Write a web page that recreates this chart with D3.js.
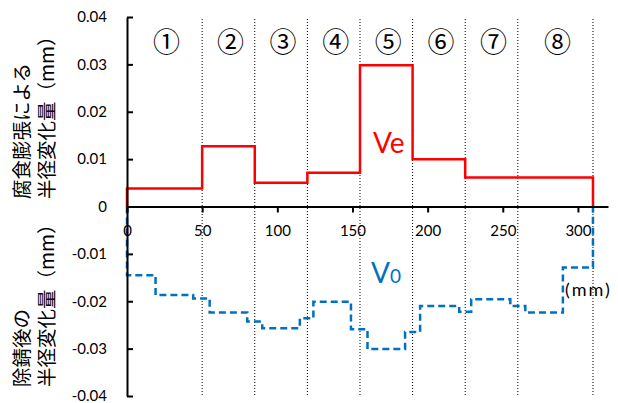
<!DOCTYPE html>
<html>
<head>
<meta charset="utf-8">
<script src="https://cdn.jsdelivr.net/npm/d3@7.9.0/dist/d3.min.js"></script>
<style>
  body { margin: 0; background: #fff; }
  svg { display: block; }
  .tick text { font-family: Lato, "Noto Sans", sans-serif; font-size: 15px; fill: #000; }
  .jp { font-family: "Noto Sans CJK JP", sans-serif; }
</style>
</head>
<body>
<svg width="618" height="403"></svg>
<script>
// section boundaries (mm) and the corrosion-expansion change per section
const sectionEdges = [0, 50, 85, 120, 155, 190, 225, 260, 310];
const sectionLabels = ["①", "②", "③", "④", "⑤", "⑥", "⑦", "⑧"];
const veValues = [0.0038, 0.0127, 0.0050, 0.0071, 0.0298, 0.0100, 0.0061, 0.0061];

// after rust removal: finer steps
const v0Edges = [0, 19, 44, 55, 80, 90, 115, 124, 149, 160, 185, 195, 221, 229, 255, 265, 290, 310];
const v0Values = [-0.0145, -0.0187, -0.0194, -0.0224, -0.0243, -0.0257, -0.0236, -0.0201,
                  -0.0259, -0.0301, -0.0265, -0.0210, -0.0222, -0.0196, -0.0210, -0.0224, -0.0129];

const xTicks = [0, 50, 100, 150, 200, 250, 300];
const yTicks = [0.04, 0.03, 0.02, 0.01, 0, -0.01, -0.02, -0.03, -0.04];

const svg = d3.select("svg");

const x = d3.scaleLinear().domain([0, 320]).range([127, 608]);
const y = d3.scaleLinear().domain([-0.04, 0.04]).range([396, 17]);

// dotted section dividers
svg.append("g")
  .selectAll("line")
  .data(sectionEdges.slice(1))
  .join("line")
  .attr("x1", d => x(d)).attr("x2", d => x(d))
  .attr("y1", 19).attr("y2", 396)
  .attr("stroke", "#000")
  .attr("stroke-width", 1)
  .attr("stroke-dasharray", "1,2");

// circled section numbers
svg.append("g")
  .selectAll("text")
  .data(sectionLabels)
  .join("text")
  .attr("class", "jp")
  .attr("x", (d, i) => x((sectionEdges[i] + sectionEdges[i + 1]) / 2) + 2)
  .attr("y", 52)
  .attr("text-anchor", "middle")
  .attr("font-size", 27)
  .text(d => d);

// build step points
function stepPoints(edges, vals) {
  const pts = [[edges[0], 0]];
  vals.forEach((v, i) => pts.push([edges[i], v]));
  const last = edges[edges.length - 1];
  pts.push([last, vals[vals.length - 1]]);
  pts.push([last, 0]);
  return pts;
}

const line = d3.line()
  .x(d => x(d[0]))
  .y(d => y(d[1]))
  .curve(d3.curveStepAfter);

svg.append("path")
  .attr("d", line(stepPoints(v0Edges, v0Values)))
  .attr("fill", "none")
  .attr("stroke", "#0070c0")
  .attr("stroke-width", 2.5)
  .attr("stroke-dasharray", "7,4");

svg.append("path")
  .attr("d", line(stepPoints(sectionEdges, veValues)))
  .attr("fill", "none")
  .attr("stroke", "#ff0000")
  .attr("stroke-width", 2.5);

// axes
const yAxis = svg.append("g")
  .attr("transform", `translate(${x(0)},0)`)
  .call(d3.axisLeft(y)
    .tickValues(yTicks)
    .tickSizeInner(-6)
    .tickSizeOuter(0)
    .tickPadding(20)
    .tickFormat(d => d === 0 ? "0" : d.toFixed(2)));

const xAxis = svg.append("g")
  .attr("transform", `translate(0,${y(0)})`)
  .call(d3.axisBottom(x)
    .tickValues(xTicks)
    .tickSizeInner(6)
    .tickSizeOuter(0)
    .tickPadding(13)
    .tickFormat(d3.format("d")));

[yAxis, xAxis].forEach(g => {
  g.select(".domain").attr("stroke", "#000").attr("stroke-width", 2);
  g.selectAll(".tick line").attr("stroke", "#000").attr("stroke-width", 2);
});

// series labels
svg.append("text")
  .attr("x", 373).attr("y", 153)
  .attr("fill", "#ff0000")
  .attr("font-family", "Lato, sans-serif")
  .attr("font-size", 28)
  .text("Ve");

const v0 = svg.append("text")
  .attr("x", 371).attr("y", 283)
  .attr("fill", "#0070c0")
  .attr("font-family", "Lato, sans-serif")
  .attr("font-size", 28);
v0.append("tspan").text("V");
v0.append("tspan").attr("font-size", 19).text("0");

svg.append("text")
  .attr("x", 565).attr("y", 296)
  .attr("font-family", "Lato, sans-serif")
  .attr("font-size", 18)
  .attr("letter-spacing", 2)
  .text("(mm)");

// y titles
function vTitle(lines, bottom) {
  const t = svg.append("text")
    .attr("class", "jp")
    .attr("font-size", 19.5)
    .attr("transform", `translate(0,${bottom}) rotate(-90)`);
  lines.forEach((s, i) => {
    t.append("tspan").attr("x", 0).attr("y", 29 + i * 24.5).text(s);
  });
}
vTitle(["腐食膨張による", "半径変化量（mm）"], 199);
vTitle(["除錆後の", "半径変化量（mm）"], 387);
</script>
</body>
</html>
